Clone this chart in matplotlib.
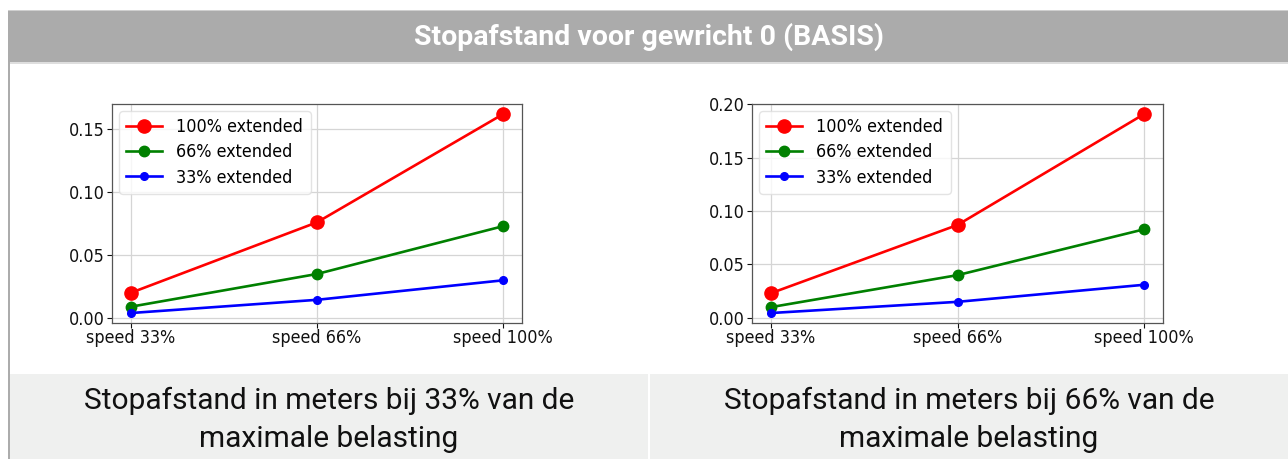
import matplotlib
matplotlib.use("Agg")
import matplotlib.pyplot as plt
from matplotlib.patches import Rectangle
from matplotlib import font_manager

# Data: stopping distance (m) per speed level, for three arm extensions
speeds = ["speed 33%", "speed 66%", "speed 100%"]
series_labels = ["100% extended", "66% extended", "33% extended"]
series_colors = ["red", "green", "blue"]

load33_ext100 = [0.020, 0.076, 0.162]
load33_ext66 = [0.009, 0.035, 0.073]
load33_ext33 = [0.004, 0.0145, 0.030]

load66_ext100 = [0.023, 0.087, 0.191]
load66_ext66 = [0.010, 0.040, 0.083]
load66_ext33 = [0.0045, 0.015, 0.031]

header_title = "Stopafstand voor gewricht 0 (BASIS)"
captions = [
    "Stopafstand in meters bij 33% van de\nmaximale belasting",
    "Stopafstand in meters bij 66% van de\nmaximale belasting",
]

W, H = 1288, 459
DPI = 100
fig = plt.figure(figsize=(W / DPI, H / DPI), dpi=DPI)
fig.patch.set_facecolor("white")

# Prefer the regular condensed DejaVu Sans for the chart text if it is available
condensed = [f for f in font_manager.fontManager.ttflist
             if f.name.startswith("DejaVu Sans") and "Mono" not in f.name
             and "ondensed" in (f.fname + str(f.stretch))
             and "Bold" not in f.fname and "Oblique" not in f.fname
             and "Light" not in f.fname]
if condensed:
    chart_font = font_manager.FontProperties(fname=condensed[0].fname, size=12.9)
else:
    chart_font = font_manager.FontProperties(family="DejaVu Sans", size=12.9)


def px_rect(x0, y0, x1, y1, color, z=0):
    """Rectangle given in pixel coordinates measured from the top-left corner."""
    fig.patches.append(Rectangle((x0 / W, 1 - y1 / H), (x1 - x0) / W, (y1 - y0) / H,
                                 transform=fig.transFigure, facecolor=color,
                                 edgecolor="none", zorder=z))


# Table frame: header band, borders, caption cells
px_rect(8, 10, W, 11, "#cfcfcf")
px_rect(8, 11, W, 62, "#ababab")
px_rect(8, 62, W, 64, "#dedede")
px_rect(8, 62, 10, H, "#acacac")
px_rect(10, 374, 648, H, "#eff0ef")
px_rect(650, 374, W, H, "#eff0ef")

fig.text(649 / W, 1 - 37 / H, header_title, ha="center", va="center",
         color="white", fontsize=20.5, fontweight="bold", family="Roboto")

for cx, cap in zip([329, 969], captions):
    fig.text(cx / W, 1 - 420 / H, cap, ha="center", va="center", color="#111111",
             fontsize=21.5, family="Roboto", linespacing=1.45)

panels = [
    (112, 522, [load33_ext100, load33_ext66, load33_ext33]),
    (752, 1163, [load66_ext100, load66_ext66, load66_ext33]),
]
marker_sizes = [9.5, 7.5, 5.5]
ax_top, ax_bot = 104, 323

for x0, x1, data in panels:
    ax = fig.add_axes([x0 / W, 1 - ax_bot / H, (x1 - x0) / W, (ax_bot - ax_top) / H])
    for vals, lab, col, ms in zip(data, series_labels, series_colors, marker_sizes):
        ax.plot(speeds, vals, marker="o", color=col, label=lab, lw=1.9, ms=ms)
    ax.grid(True, color="#d5d5d5", lw=0.9)
    ax.set_axisbelow(True)
    ax.tick_params(colors="#111111", length=3.5)
    ax.tick_params(axis="x", pad=0.5)
    ax.tick_params(axis="y", pad=2)
    for sp in ax.spines.values():
        sp.set_color("#555555")
        sp.set_linewidth(0.9)
    ax.set_yticks([t / 100 for t in range(0, 25, 5)])
    ax.yaxis.set_major_formatter(matplotlib.ticker.FormatStrFormatter("%.2f"))
    ax.margins(x=0.05)
    ymin = min(min(v) for v in data)
    ymax = max(max(v) for v in data)
    pad = (ymax - ymin) * 0.05
    ax.set_ylim(ymin - pad, ymax + pad)
    for lbl in ax.get_xticklabels() + ax.get_yticklabels():
        lbl.set_fontproperties(chart_font)
    ax.legend(loc="upper left", prop=chart_font, framealpha=0.8, edgecolor="#dddddd",
              labelspacing=0.4, borderaxespad=0.4)

fig.savefig("out.png", dpi=DPI)
